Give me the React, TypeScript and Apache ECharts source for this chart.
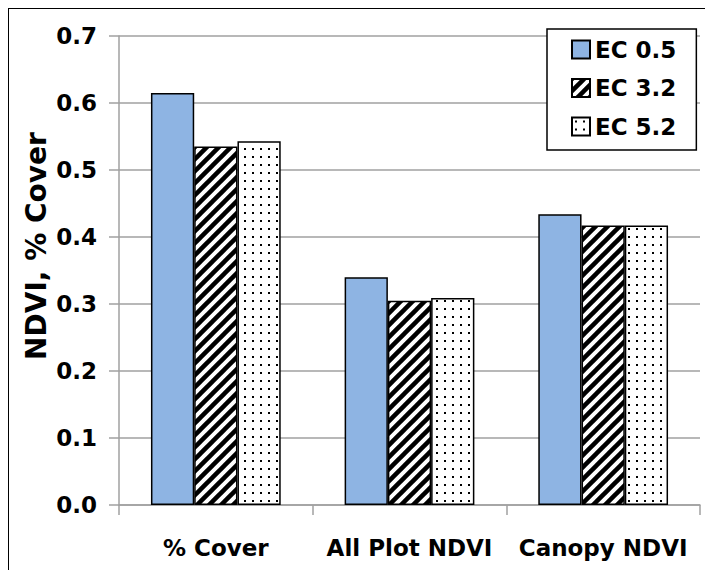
import React, { useEffect, useRef } from "react";
import * as echarts from "echarts";

const categories = ["% Cover", "All Plot NDVI", "Canopy NDVI"];
const seriesNames = ["EC 0.5", "EC 3.2", "EC 5.2"];
const ec05 = [0.615, 0.34, 0.434];
const ec32 = [0.535, 0.305, 0.417];
const ec52 = [0.543, 0.309, 0.417];
const yMin = 0;
const yMax = 0.7;
const yStep = 0.1;
const yTitle = "NDVI, % Cover";

const FONT = "DejaVu Sans";

function hatchPattern() {
  const s = 12;
  const c = document.createElement("canvas");
  c.width = s;
  c.height = s;
  const g = c.getContext("2d")!;
  g.fillStyle = "#ffffff";
  g.fillRect(0, 0, s, s);
  g.strokeStyle = "#000000";
  g.lineWidth = 4.5;
  for (const k of [0, s, 2 * s]) {
    g.beginPath();
    g.moveTo(k + 3, -3);
    g.lineTo(k - s - 3, s + 3);
    g.stroke();
  }
  return { image: c, repeat: "repeat", imageWidth: s, imageHeight: s };
}

function dotPattern() {
  const s = 8;
  const c = document.createElement("canvas");
  c.width = s;
  c.height = s;
  const g = c.getContext("2d")!;
  g.fillStyle = "#ffffff";
  g.fillRect(0, 0, s, s);
  g.fillStyle = "#000000";
  g.fillRect(3, 3, 2, 2);
  return { image: c, repeat: "repeat", imageWidth: s, imageHeight: s };
}

export default function App() {
  const ref = useRef<HTMLDivElement>(null);
  useEffect(() => {
    if (!ref.current) return;
    const chart = echarts.init(ref.current, null, { renderer: "svg" });
    const fills: any[] = ["#8EB4E3", hatchPattern(), dotPattern()];
    const values = [ec05, ec32, ec52];
    const gray = "#A0A0A0";
    chart.setOption({
      animation: false,
      backgroundColor: "#ffffff",
      grid: { left: 110, top: 27, width: 581, height: 469 },
      legend: {
        orient: "vertical",
        left: 538,
        top: 20,
        padding: [9, 20, 12, 24],
        backgroundColor: "#ffffff",
        borderColor: "#000000",
        borderWidth: 1.5,
        borderRadius: 0,
        itemWidth: 18,
        itemHeight: 18,
        itemGap: 15.5,
        icon: "rect",
        data: seriesNames,
        textStyle: {
          fontFamily: FONT,
          fontWeight: "bold",
          fontSize: 23,
          lineHeight: 23,
          color: "#000000",
        },
      },
      xAxis: {
        type: "category",
        data: categories,
        axisLine: { lineStyle: { color: gray, width: 1.5 } },
        axisTick: { show: true, length: 10, interval: 0, lineStyle: { color: gray, width: 1.5 } },
        axisLabel: {
          margin: 31,
          interval: 0,
          fontFamily: FONT,
          fontWeight: "bold",
          fontSize: 23,
          color: "#000000",
        },
      },
      yAxis: {
        type: "value",
        min: yMin,
        max: yMax,
        interval: yStep,
        axisLine: { show: true, lineStyle: { color: gray, width: 1.5 } },
        axisTick: { show: true, length: 10, lineStyle: { color: gray, width: 1.5 } },
        splitLine: { show: true, lineStyle: { color: gray, width: 1.5 } },
        axisLabel: {
          margin: 22,
          fontFamily: FONT,
          fontWeight: "bold",
          fontSize: 23,
          color: "#000000",
          formatter: (v: number) => v.toFixed(1),
        },
      },
      graphic: [
        {
          type: "text",
          x: 27,
          y: 237,
          rotation: Math.PI / 2,
          style: {
            text: yTitle,
            fontFamily: FONT,
            fontWeight: "bold",
            fontSize: 28,
            fill: "#000000",
            align: "center",
            verticalAlign: "middle",
          },
        },
      ],
      series: seriesNames.map((name, i) => ({
        name,
        type: "bar",
        data: values[i],
        barGap: "0%",
        barCategoryGap: "33%",
        itemStyle: { color: fills[i], borderColor: "#000000", borderWidth: 1.5 },
      })),
    });
    return () => chart.dispose();
  }, []);
  return (
    <div
      style={{
        position: "fixed",
        left: 8,
        top: 8,
        width: 697,
        height: 562,
        overflow: "hidden",
      }}
    >
      <div
        ref={ref}
        style={{ width: 720, height: 600, border: "1px solid #000" }}
      />
    </div>
  );
}
